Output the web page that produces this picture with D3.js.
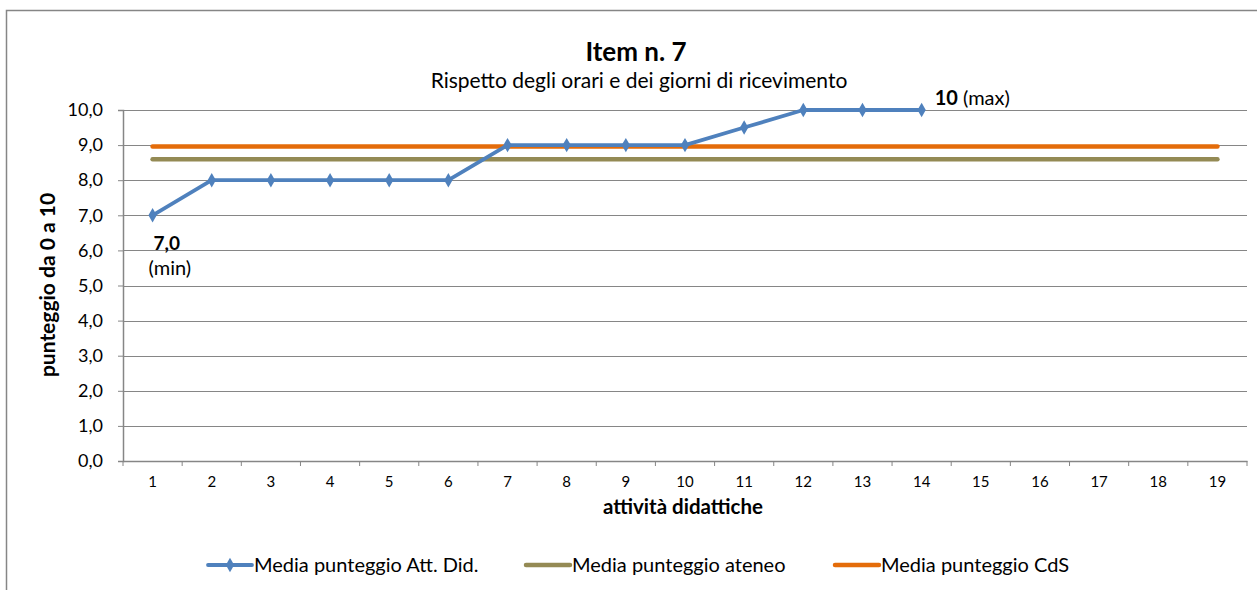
<!DOCTYPE html>
<html>
<head>
<meta charset="utf-8">
<script src="https://cdnjs.cloudflare.com/ajax/libs/d3/7.8.5/d3.min.js"></script>
<style>
  body { margin: 0; background: #fff; }
  text { font-family: Lato, "Open Sans", sans-serif; fill: #000; }
</style>
</head>
<body>
<script>
// chart data
const categories = ["1","2","3","4","5","6","7","8","9","10","11","12","13","14","15","16","17","18","19"];
const mediaAttDid = [7, 8, 8, 8, 8, 8, 9, 9, 9, 9, 9.5, 10, 10, 10];
const mediaAteneo = [8.6,8.6,8.6,8.6,8.6,8.6,8.6,8.6,8.6,8.6,8.6,8.6,8.6,8.6,8.6,8.6,8.6,8.6,8.6];
const mediaCdS = [8.96,8.96,8.96,8.96,8.96,8.96,8.96,8.96,8.96,8.96,8.96,8.96,8.96,8.96,8.96,8.96,8.96,8.96,8.96];
const yTicks = [0,1,2,3,4,5,6,7,8,9,10];
const legendLabels = ["Media punteggio Att. Did.", "Media punteggio ateneo", "Media punteggio CdS"];

const W = 1257, H = 590;
const blue = "#4f81bd", olive = "#948a54", orange = "#e46c0a", gray = "#868686";

let svg, x, y;

setupSvg();
setupScales();
drawFrame();
drawGrid();
drawAxes();
drawSeries();
drawLabels();
drawLegend();

function setupSvg() {
  svg = d3.select("body").append("svg")
    .attr("width", W)
    .attr("height", H);
}

function setupScales() {
  x = d3.scaleBand().domain(categories).range([123, 1247]).padding(0);
  y = d3.scaleLinear().domain([0, 10]).range([461, 110]);
}

function cx(i) { return x(categories[i]) + x.bandwidth() / 2; }

function drawFrame() {
  svg.append("rect")
    .attr("x", 6.5).attr("y", 10.5)
    .attr("width", 1300).attr("height", 700)
    .attr("fill", "none")
    .attr("stroke", gray)
    .attr("stroke-width", 1.5);
}

function drawGrid() {
  svg.append("g").selectAll("line")
    .data(yTicks.filter(d => d > 0))
    .enter().append("line")
    .attr("x1", 123).attr("x2", 1247)
    .attr("y1", d => Math.round(y(d)) + 0.5)
    .attr("y2", d => Math.round(y(d)) + 0.5)
    .attr("stroke", gray)
    .attr("stroke-width", 1);
}

function drawAxes() {
  const yAxis = svg.append("g")
    .attr("transform", "translate(123,0)")
    .call(d3.axisLeft(y).tickValues(yTicks).tickSize(5).tickPadding(15)
      .tickFormat(d => d3.format(".1f")(d).replace(".", ",")));
  yAxis.select(".domain").attr("stroke", gray).attr("stroke-width", 1.5);
  yAxis.selectAll(".tick line").attr("stroke", gray);
  yAxis.selectAll(".tick text").style("font-size", "18px");

  const xAxis = svg.append("g")
    .attr("transform", "translate(0,461)")
    .call(d3.axisBottom(x).tickSize(0).tickPadding(15));
  xAxis.select(".domain").attr("stroke", gray).attr("stroke-width", 1.5);
  xAxis.selectAll(".tick text").style("font-size", "15px");

  // tick marks between categories
  const bounds = categories.map(c => x(c)).concat([x(categories[categories.length - 1]) + x.bandwidth()]);
  xAxis.selectAll(".btick").data(bounds).enter().append("line")
    .attr("x1", d => d).attr("x2", d => d)
    .attr("y1", 0).attr("y2", 5)
    .attr("stroke", gray);

  svg.append("text")
    .attr("transform", "translate(55,285) rotate(-90)")
    .attr("text-anchor", "middle")
    .style("font-size", "21px").style("font-weight", "bold")
    .text("punteggio da 0 a 10");

  svg.append("text")
    .attr("x", 683).attr("y", 514)
    .attr("text-anchor", "middle")
    .style("font-size", "20.5px").style("font-weight", "bold")
    .text("attività didattiche");
}

function drawSeries() {
  const line = d3.line().x((d, i) => cx(i)).y(d => y(d));

  svg.append("path").datum(mediaAteneo)
    .attr("d", line).attr("fill", "none")
    .attr("stroke", olive).attr("stroke-width", 4.5).attr("stroke-linecap", "round");

  svg.append("path").datum(mediaCdS)
    .attr("d", line).attr("fill", "none")
    .attr("stroke", orange).attr("stroke-width", 4.5).attr("stroke-linecap", "round");

  svg.append("path").datum(mediaAttDid)
    .attr("d", line).attr("fill", "none")
    .attr("stroke", blue).attr("stroke-width", 3.8).attr("stroke-linejoin", "round");

  svg.append("g").selectAll("path")
    .data(mediaAttDid).enter().append("path")
    .attr("d", d3.symbol().type(d3.symbolDiamond).size(60))
    .attr("transform", (d, i) => `translate(${cx(i)},${y(d)})`)
    .attr("fill", blue);
}

function drawLabels() {
  svg.append("text")
    .attr("x", 636).attr("y", 61)
    .attr("text-anchor", "middle")
    .style("font-size", "26px").style("font-weight", "bold")
    .text("Item n. 7");

  svg.append("text")
    .attr("x", 639).attr("y", 88)
    .attr("text-anchor", "middle")
    .style("font-size", "21px")
    .text("Rispetto degli orari e dei giorni di ricevimento");

  // min label
  const iMin = mediaAttDid.indexOf(d3.min(mediaAttDid));
  svg.append("text")
    .attr("x", cx(iMin) + 1).attr("y", 250)
    .style("font-size", "19px").style("font-weight", "bold")
    .text(d3.format(".1f")(mediaAttDid[iMin]).replace(".", ","));
  svg.append("text")
    .attr("x", cx(iMin) - 4).attr("y", 275)
    .style("font-size", "20px")
    .text("(min)");

  // max label
  const iMax = mediaAttDid.length - 1;
  const t = svg.append("text")
    .attr("x", cx(iMax) + 13).attr("y", 105)
    .style("font-size", "20px");
  t.append("tspan").style("font-weight", "bold").text(mediaAttDid[iMax]);
  t.append("tspan").text(" (max)");
}

function drawLegend() {
  const items = [
    {label: legendLabels[0], color: blue, x: 208, marker: true, w: 3.8},
    {label: legendLabels[1], color: olive, x: 526, marker: false, w: 4.5},
    {label: legendLabels[2], color: orange, x: 835, marker: false, w: 4.5}
  ];
  const g = svg.append("g").attr("class", "legend");
  items.forEach(it => {
    g.append("line")
      .attr("x1", it.x).attr("x2", it.x + 44)
      .attr("y1", 565).attr("y2", 565)
      .attr("stroke", it.color).attr("stroke-width", it.w).attr("stroke-linecap", "round");
    if (it.marker) {
      g.append("path")
        .attr("d", d3.symbol().type(d3.symbolDiamond).size(60))
        .attr("transform", `translate(${it.x + 22},565)`)
        .attr("fill", it.color);
    }
    g.append("text")
      .attr("x", it.x + 46).attr("y", 572)
      .style("font-size", "20px")
      .text(it.label);
  });
}
</script>
</body>
</html>
